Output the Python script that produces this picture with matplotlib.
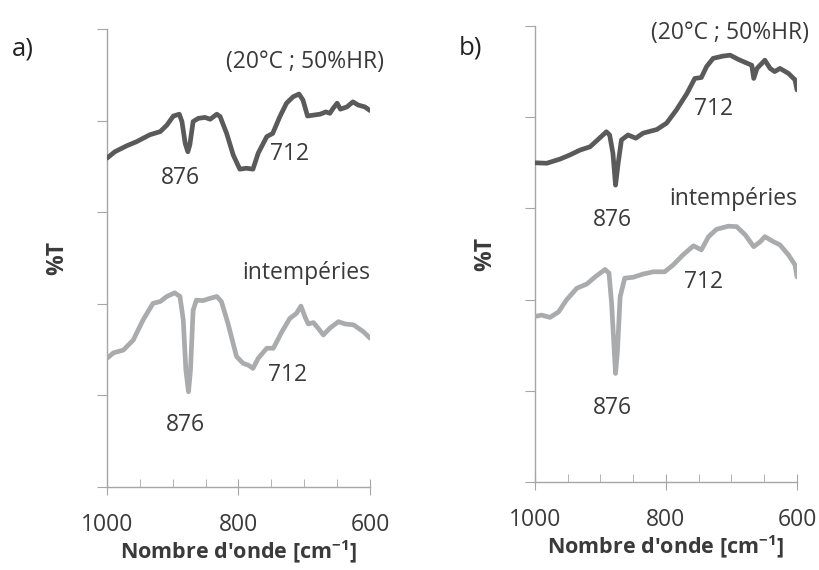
"""
FTIR spectra (1000-600 cm-1): a) and b), reference vs weathered samples.
"""
import matplotlib
matplotlib.use("Agg")
import matplotlib.pyplot as plt
from matplotlib.ticker import MultipleLocator

plt.rcParams.update({"font.family": ["Open Sans", "DejaVu Sans"]})

DARK = "#5a5a5a"
LIGHT = "#a9abad"
AXIS = "#a6a6a6"
TXT = "#3a3a3a"
FS = 16.5

# ---------------------------------------------------------------- data (a)
a_ref_x = [1000, 988, 970, 955, 935, 919, 909, 899, 890, 886, 881, 877, 874,
           869, 861, 851, 843, 833, 828, 818, 808, 798, 788, 778, 770, 757,
           748, 737, 727, 717, 708, 702, 695, 686, 676, 667, 661, 656, 650,
           645, 635, 626, 618, 608, 600]
a_ref_y = [71.8, 73.2, 74.5, 75.4, 76.9, 77.6, 79.0, 81.0, 81.4, 79.8, 75.0,
           73.2, 74.7, 79.8, 80.5, 80.7, 80.3, 81.4, 80.9, 77.2, 72.5, 69.4,
           69.6, 69.4, 72.9, 76.5, 77.2, 80.9, 83.8, 85.2, 85.8, 84.5, 81.0,
           81.2, 81.4, 81.9, 81.6, 82.7, 83.8, 82.5, 83.0, 84.1, 83.4, 83.0,
           82.2]
a_wea_x = [1000, 990, 975, 960, 945, 930, 919, 909, 897, 889, 884, 880, 876,
           873, 869, 864, 854, 843, 833, 826, 816, 803, 793, 785, 778, 770,
           757, 747, 734, 722, 712, 705, 699, 694, 686, 679, 671, 661, 648,
           638, 625, 610, 600]
a_wea_y = [28.1, 29.3, 29.9, 32.1, 36.5, 40.1, 40.5, 41.6, 42.4, 41.6, 36.5,
           25.5, 20.8, 25.5, 38.6, 40.8, 40.7, 41.2, 41.6, 40.5, 35.7, 28.5,
           27.0, 26.6, 25.9, 28.1, 30.3, 30.3, 33.9, 36.8, 37.9, 39.5, 37.2,
           35.6, 35.9, 34.7, 33.2, 34.7, 36.1, 35.6, 35.4, 33.9, 32.5]

# ---------------------------------------------------------------- data (b)
b_ref_x = [1000, 982, 962, 947, 931, 916, 903, 891, 886, 881, 877, 873, 868,
           858, 846, 835, 814, 799, 784, 768, 756, 746, 738, 728, 713, 702,
           690, 674, 669, 666, 661, 649, 641, 634, 626, 613, 603, 600]
b_ref_y = [70.0, 69.9, 70.8, 71.7, 72.8, 73.5, 75.2, 76.8, 76.1, 72.1, 65.1,
           69.9, 75.0, 76.1, 75.4, 76.5, 77.3, 78.7, 81.6, 85.2, 88.5, 88.7,
           91.1, 92.9, 93.4, 93.6, 92.7, 91.7, 91.4, 88.5, 90.7, 92.5, 90.7,
           90.0, 90.7, 89.6, 88.2, 86.0]
b_wea_x = [1000, 990, 977, 964, 952, 936, 921, 908, 893, 887, 883, 879, 877,
           874, 870, 863, 850, 835, 819, 802, 789, 774, 758, 746, 735, 723,
           705, 692, 679, 666, 656, 649, 636, 626, 613, 603, 600]
b_wea_y = [36.3, 36.6, 36.1, 37.3, 39.9, 42.5, 43.4, 45.0, 46.6, 45.8, 39.2,
           28.9, 23.8, 28.9, 40.6, 44.7, 44.9, 45.6, 46.1, 46.1, 47.6, 49.8,
           51.8, 50.9, 53.8, 55.4, 56.1, 56.0, 54.2, 51.6, 52.7, 53.8, 52.7,
           52.0, 49.8, 47.6, 45.0]

# annotations: (text, x, y) in data coords
a_notes = [("(20°C ; 50%HR)", 699, 92.8), ("876", 889, 67.5),
           ("712", 722, 72.7), ("intempéries", 697, 46.7),
           ("876", 881, 13.5), ("712", 726, 24.5)]
b_notes = [("(20°C ; 50%HR)", 702, 98.5), ("712", 727, 81.8),
           ("876", 882, 57.5), ("intempéries", 698, 62.1),
           ("712", 742, 43.9), ("876", 882, 16.2)]

fig = plt.figure(figsize=(8.19, 5.70), dpi=100)
ax_a = fig.add_axes([0.1306, 0.1456, 0.3212, 0.8035])
ax_b = fig.add_axes([0.6532, 0.1544, 0.3199, 0.8000])


def style(ax):
    ax.set_xlim(1000, 600)
    ax.set_ylim(0, 100)
    ax.xaxis.set_major_locator(MultipleLocator(200))
    ax.xaxis.set_minor_locator(MultipleLocator(50))
    ax.yaxis.set_major_locator(MultipleLocator(20))
    ax.set_yticklabels([])
    for s in ("top", "right"):
        ax.spines[s].set_visible(False)
    for s in ("left", "bottom"):
        ax.spines[s].set_color(AXIS)
        ax.spines[s].set_linewidth(1.0)
    ax.tick_params(axis="x", which="major", direction="inout", length=12,
                   color=AXIS, labelsize=FS, labelcolor=TXT, pad=13)
    ax.tick_params(axis="x", which="minor", direction="in", length=6,
                   color=AXIS)
    ax.tick_params(axis="y", direction="out", length=7, color=AXIS)
    ax.set_xlabel("Nombre d'onde [cm$^{\\mathregular{-1}}$]", fontsize=15.5,
                  fontweight="bold", color=TXT, labelpad=1)
    ax.set_ylabel("%T", fontsize=FS, fontweight="bold", color=TXT,
                  labelpad=17)


for ax, (rx, ry, wx, wy), notes in [
        (ax_a, (a_ref_x, a_ref_y, a_wea_x, a_wea_y), a_notes),
        (ax_b, (b_ref_x, b_ref_y, b_wea_x, b_wea_y), b_notes)]:
    ax.plot(rx, ry, color=DARK, linewidth=3.4, solid_joinstyle="round",
            solid_capstyle="round", zorder=3)
    ax.plot(wx, wy, color=LIGHT, linewidth=3.4, solid_joinstyle="round",
            solid_capstyle="round", zorder=3)
    for t, x, y in notes:
        ax.text(x, y, t, fontsize=FS, color=TXT, ha="center", va="center",
                clip_on=False)
    style(ax)

fig.text(0.028, 0.914, "a)", fontsize=FS + 2, color="#222222",
         ha="center", va="center")
fig.text(0.574, 0.916, "b)", fontsize=FS + 2, color="#222222",
         ha="center", va="center")

fig.savefig("out.png", dpi=100)
